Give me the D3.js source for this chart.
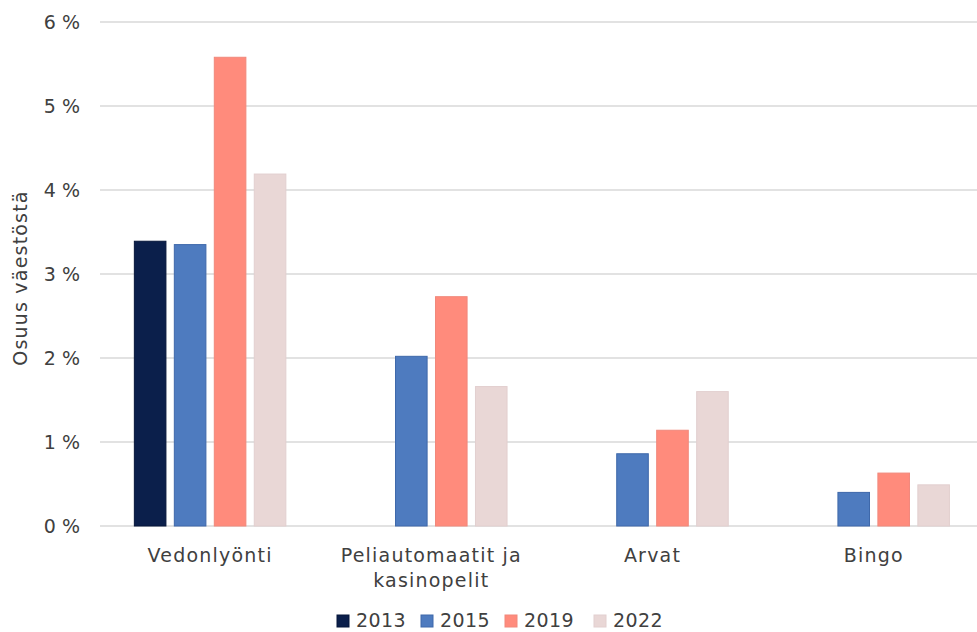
<!DOCTYPE html>
<html>
<head>
<meta charset="utf-8">
<script src="https://cdn.jsdelivr.net/npm/d3@7"></script>
<style>
  html, body { margin: 0; padding: 0; background: #ffffff; }
  svg { display: block; }
  text { font-family: "DejaVu Sans", sans-serif; fill: #404040; }
</style>
</head>
<body>
<svg id="chart" width="977" height="632"></svg>
<script>
// Pelaamisen muodot ja osuus väestöstä (%) eri vuosina
const categories = [["Vedonlyönti"], ["Peliautomaatit ja", "kasinopelit"], ["Arvat"], ["Bingo"]];
const years = ["2013", "2015", "2019", "2022"];
const values2013 = [3.39, null, null, null];
const values2015 = [3.35, 2.02, 0.86, 0.40];
const values2019 = [5.58, 2.73, 1.14, 0.63];
const values2022 = [4.19, 1.66, 1.60, 0.49];
const yTicks = [0, 1, 2, 3, 4, 5, 6];

const seriesValues = [values2013, values2015, values2019, values2022];
const fills = ["#0b1f4b", "#4e7bbf", "#ff8b7c", "#e9d7d6"];
const strokes = ["#06163a", "#3e68aa", "#f1887b", "#e2cfcf"];

const svg = d3.select("#chart");
const plotLeft = 99.5, plotRight = 984.3, plotTop = 22, plotBottom = 526;
const fontSize = 19;

const x = d3.scaleBand().domain(d3.range(categories.length)).range([plotLeft, plotRight]).paddingInner(0).paddingOuter(0);
const yearScale = d3.scaleBand().domain(years).range([34.85, x.bandwidth() - 34.85]).paddingInner(0.21);
const y = d3.scaleLinear().domain([0, 6]).range([plotBottom, plotTop]);

// gridlines
svg.append("g").selectAll("line").data(yTicks).join("line")
  .attr("x1", 100).attr("x2", 977)
  .attr("y1", d => y(d)).attr("y2", d => y(d))
  .attr("stroke", "#d9d9d9").attr("stroke-width", 1.5);

// y tick labels
svg.append("g").selectAll("text").data(yTicks).join("text")
  .attr("x", 80).attr("y", d => y(d)).attr("dy", "0.36em")
  .attr("text-anchor", "end").attr("font-size", fontSize)
  .text(d => d + " %");

// y axis title
svg.append("text")
  .attr("transform", `translate(27, ${(plotTop + plotBottom) / 2 + 4}) rotate(-90)`)
  .attr("text-anchor", "middle").attr("font-size", fontSize)
  .attr("letter-spacing", 1.2)
  .text("Osuus väestöstä");

// bars
const bars = [];
seriesValues.forEach((vals, si) => {
  vals.forEach((v, ci) => { if (v != null) bars.push({ si, ci, v }); });
});
svg.append("g").selectAll("rect").data(bars).join("rect")
  .attr("x", d => x(d.ci) + yearScale(years[d.si]))
  .attr("width", yearScale.bandwidth())
  .attr("y", d => y(d.v))
  .attr("height", d => y(0) - y(d.v))
  .attr("fill", d => fills[d.si])
  .attr("stroke", d => strokes[d.si]).attr("stroke-width", 1);

// category labels
const catG = svg.append("g").selectAll("text").data(categories).join("text")
  .attr("text-anchor", "middle").attr("font-size", fontSize)
  .attr("letter-spacing", 1.2)
  .attr("x", (d, i) => x(i) + x.bandwidth() / 2)
  .attr("y", 561.5);
catG.selectAll("tspan").data(d => d).join("tspan")
  .attr("x", function () { return d3.select(this.parentNode).attr("x"); })
  .attr("dy", (d, i) => i === 0 ? 0 : 25)
  .text(d => d);

// legend
const legendX = [337, 421, 505, 594];
const lg = svg.append("g").selectAll("g").data(years).join("g")
  .attr("transform", (d, i) => `translate(${legendX[i]}, 627)`);
lg.append("rect").attr("x", 0).attr("y", -12).attr("width", 12).attr("height", 12)
  .attr("fill", (d, i) => fills[i]).attr("stroke", (d, i) => strokes[i]);
lg.append("text").attr("x", 19).attr("y", 0).attr("font-size", fontSize)
  .attr("letter-spacing", 0.4).text(d => d);
</script>
</body>
</html>
